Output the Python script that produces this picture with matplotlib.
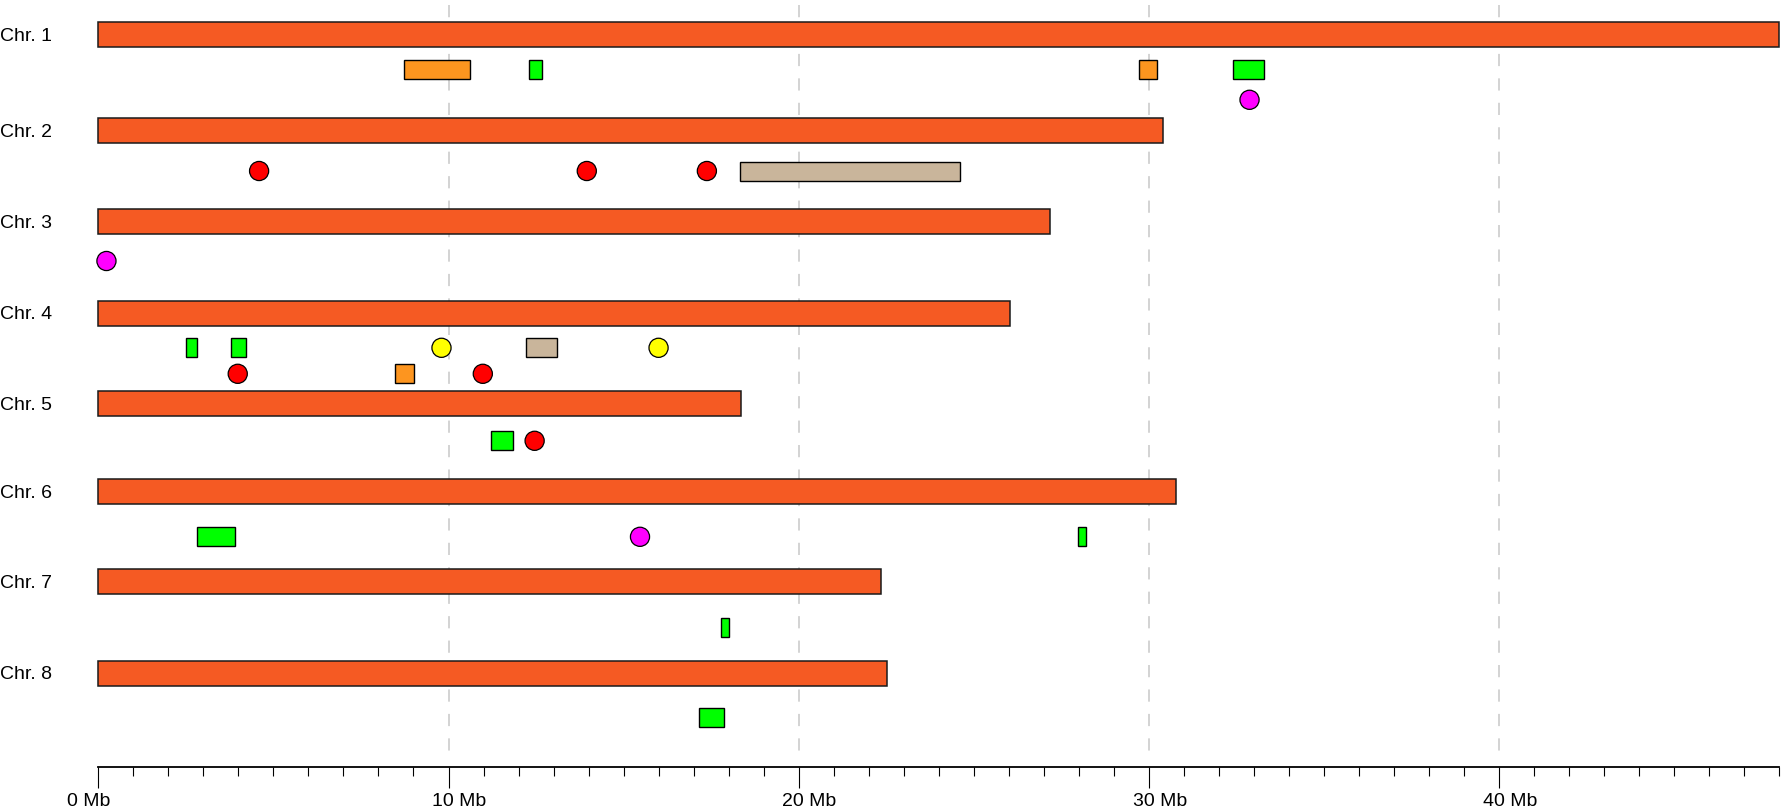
import matplotlib.pyplot as plt
from matplotlib.transforms import ScaledTranslation

# chromosomes
chrom_names = ['Chr. 1', 'Chr. 2', 'Chr. 3', 'Chr. 4', 'Chr. 5', 'Chr. 6', 'Chr. 7', 'Chr. 8']
chrom_len = [48.0, 30.4, 27.17, 26.03, 18.35, 30.79, 22.34, 22.53]  # Mb

# rectangular features: chromosome index, track, start, end (Mb), type
rect_chrom = [0, 0, 0, 0, 1, 3, 3, 3, 3, 4, 5, 5, 6, 7]
rect_track = [0, 0, 0, 0, 0, 0, 0, 0, 1, 0, 0, 0, 0, 0]
rect_start = [8.74, 12.31, 29.72, 32.42, 18.33, 2.49, 3.78, 12.2, 8.48, 11.22, 2.82, 27.99, 17.77, 17.16]
rect_end = [10.60, 12.66, 30.25, 33.29, 24.6, 2.83, 4.23, 13.09, 9.02, 11.85, 3.89, 28.21, 18.0, 17.88]
rect_type = ['orange', 'green', 'orange', 'green', 'tan', 'green', 'green', 'tan', 'orange',
             'green', 'green', 'green', 'green', 'green']

# point features: chromosome index, track, position (Mb), type
dot_chrom = [0, 1, 1, 1, 2, 3, 3, 3, 3, 4, 5]
dot_track = [1, 0, 0, 0, 0, 0, 0, 1, 1, 0, 0]
dot_pos = [32.88, 4.59, 13.95, 17.38, 0.23, 9.80, 16.0, 3.98, 10.98, 12.46, 15.47]
dot_type = ['magenta', 'red', 'red', 'red', 'magenta', 'yellow', 'yellow', 'red', 'red', 'red', 'magenta']

major_ticks = [0, 10, 20, 30, 40]
major_labels = ['0 Mb', '10 Mb', '20 Mb', '30 Mb', '40 Mb']

# ---- layout (pixels) ----
W, H = 1785, 809
px0, px_per_mb = 98.4, 35.01
chrom_y = [34.8, 130.8, 221.7, 313.3, 403.8, 491.8, 581.7, 673.2]
track_y = [[69.0, 99.8], [171.0], [261.0], [347.8, 373.8], [440.8], [536.8], [627.8], [717.8]]
axis_y = 767.3

colors = {'orange': '#FD951F', 'green': '#00FF00', 'tan': '#C9B59B',
          'red': '#FF0000', 'magenta': '#FF00FF', 'yellow': '#FFFF00'}
bar_color = '#F55A23'

plt.rcParams['font.family'] = ['Liberation Sans', 'DejaVu Sans']
fs = 14

fig = plt.figure(figsize=(W / 100, H / 100), dpi=100)
ax = fig.add_axes([0, 0, 1, 1])
ax.set_xlim(-px0 / px_per_mb, (W - px0) / px_per_mb)
ax.set_ylim(H, 0)

# dashed grid
ax.vlines(major_ticks[1:], 5, axis_y - 6, colors='#C8C8C8', linewidth=1.1,
          linestyles=(0, (8, 8)), zorder=0)

# chromosome bars
ax.barh(chrom_y, chrom_len, left=0, height=25, color=bar_color,
        edgecolor='#1A1A1A', linewidth=1.1, zorder=2)
for name, y in zip(chrom_names, chrom_y):
    ax.text(-px0 / px_per_mb, y + 5.8, name, fontsize=fs, ha='left', va='baseline')

# rectangle features
ry = [track_y[c][t] for c, t in zip(rect_chrom, rect_track)]
rw = [e - s for s, e in zip(rect_start, rect_end)]
ax.barh(ry, rw, left=rect_start, height=19, color=[colors[k] for k in rect_type],
        edgecolor='black', linewidth=1.0, zorder=3)

# point features
dy = [track_y[c][t] for c, t in zip(dot_chrom, dot_track)]
ax.scatter(dot_pos, dy, s=190, c=[colors[k] for k in dot_type],
           edgecolors='black', linewidths=0.9, zorder=3)

# axis
for side in ['top', 'left', 'right']:
    ax.spines[side].set_visible(False)
ax.spines['bottom'].set_position(('data', axis_y))
ax.spines['bottom'].set_bounds(0, chrom_len[0])
ax.spines['bottom'].set_linewidth(1.3)
ax.set_xticks(major_ticks)
ax.set_xticks(range(0, int(chrom_len[0]) + 1), minor=True)
ax.set_xticklabels([])
ax.tick_params(axis='x', which='major', direction='out', length=15, width=0.8)
ax.tick_params(axis='x', which='minor', direction='out', length=6.8, width=0.8)
ax.set_yticks([])

for x, lab in zip(major_ticks, major_labels):
    dx = -9.5 if x == 0 else 11
    tr = ax.transData + ScaledTranslation(dx / 100, 0, fig.dpi_scale_trans)
    ax.text(x, 806.5, lab, fontsize=fs, ha='center', va='baseline', transform=tr)

fig.savefig('out.png', dpi=100)
